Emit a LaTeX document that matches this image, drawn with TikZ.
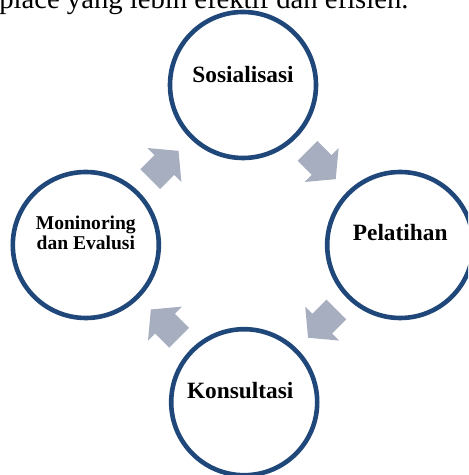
\documentclass[tikz,border=0pt]{standalone}
\usepackage{fontspec}
\setmainfont{Liberation Serif}
\usetikzlibrary{calc}
\definecolor{ringblue}{RGB}{31,71,122}
\definecolor{arrowgray}{RGB}{166,174,191}
\begin{document}
\begin{tikzpicture}[
  ring/.style={circle, draw=ringblue, line width=0.115cm, fill=white, minimum size=3.65cm, inner sep=0pt},
  lbl/.style={font=\bfseries\fontsize{16.6}{16.6}\selectfont, align=center, inner sep=0pt},
  cyclearrow/.style={fill=arrowgray}
]
\useasboundingbox (-6.075,-5.75) rectangle (5.625,6.125);
\clip (-6.075,-5.75) rectangle (5.625,6.125);
\node[anchor=base west, inner sep=0pt, font=\fontsize{20.4}{24}\selectfont] (head) at (-6.1,5.9) {place yang lebih efektif dan efisien.};

\node[ring] (sos) at (0,4.0) {};
\node[ring] (pel) at (3.93,0) {};
\node[ring] (kon) at (0.03,-3.93) {};
\node[ring] (mon) at (-3.93,0) {};

\node[lbl] (sostext) at ([yshift=0.27cm]sos.center) {Sosialisasi};
\node[lbl] (peltext) at ([yshift=0.3cm]pel.center) {Pelatihan};
\node[lbl] (kontext) at ([xshift=-0.1cm,yshift=0.3cm]kon.center) {Konsultasi};
\node[lbl, font=\bfseries\fontsize{13.9}{14.6}\selectfont] (montext) at ([yshift=0.3cm]mon.center) {Moninoring\\dan Evalusi};

\foreach \a/\b/\ang in {sos/pel/-45, pel/kon/-135, kon/mon/135, mon/sos/45}
  \fill[cyclearrow, shift={($(\a)!0.5!(\b)$)}, rotate=\ang] (-0.5,-0.35) -- (0,-0.35) -- (0,-0.6) -- (0.5,0) -- (0,0.6) -- (0,0.35) -- (-0.5,0.35) -- cycle;
\end{tikzpicture}
\end{document}
